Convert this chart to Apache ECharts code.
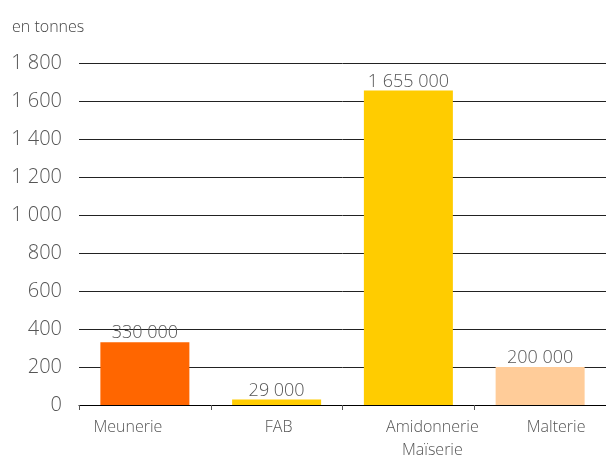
<!DOCTYPE html>
<html>
<head>
<meta charset="utf-8">
<script src="https://cdn.jsdelivr.net/npm/echarts@6/dist/echarts.min.js"></script>
<style>
  html, body { margin: 0; padding: 0; background: #fff; }
  #chart { width: 606px; height: 460px; }
</style>
</head>
<body>
<div id="chart"></div>
<script>
// milliers de tonnes
const categories = ["Meunerie", "FAB", "Amidonnerie\nMaïserie", "Malterie"];
const values = [330, 29, 1655, 200];
const barColors = ["#FF6600", "#FFCC00", "#FFCC00", "#FFCC99"];
const labelKeys = ["a", "b", "c", "d"];

const font = "Open Sans";

function spaced(n) {
  return String(n).replace(/\B(?=(\d{3})+(?!\d))/g, " ");
}

const chart = echarts.init(document.getElementById("chart"));
chart.setOption({
  animation: false,
  title: {
    text: "en tonnes",
    left: 7,
    top: 14,
    textStyle: { fontFamily: font, fontWeight: 300, fontSize: 16, color: "#444" }
  },
  grid: { left: 79, right: 0, top: 63, bottom: 55, outerBoundsMode: "none", containLabel: false },
  xAxis: {
    type: "category",
    data: categories,
    axisLine: { lineStyle: { color: "#000", width: 1 } },
    axisTick: { show: true, length: 5, lineStyle: { color: "#555" } },
    axisLabel: {
      margin: 11,
      interval: 0,
      fontFamily: font,
      fontWeight: 300,
      fontSize: 16,
      color: "#555",
      lineHeight: 23,
      formatter: function (v, i) {
        return v.split("\n").map(function (s) { return "{" + labelKeys[i] + "|" + s + "}"; }).join("\n");
      },
      rich: {
        a: { fontFamily: font, fontWeight: 300, fontSize: 16, color: "#555", lineHeight: 23, padding: [0, 34, 0, 0] },
        b: { fontFamily: font, fontWeight: 300, fontSize: 16, color: "#555", lineHeight: 23, padding: [0, 0, 0, 4] },
        c: { fontFamily: font, fontWeight: 300, fontSize: 16, color: "#555", lineHeight: 23, padding: [0, 0, 0, 48] },
        d: { fontFamily: font, fontWeight: 300, fontSize: 16, color: "#555", lineHeight: 23, padding: [0, 0, 0, 32] }
      }
    }
  },
  yAxis: {
    type: "value",
    min: 0,
    max: 1800,
    interval: 200,
    axisLine: { show: false },
    axisTick: { show: false },
    axisLabel: {
      margin: 17,
      fontFamily: font,
      fontWeight: 300,
      fontSize: 20,
      color: "#555",
      formatter: function (v) { return spaced(v); }
    },
    splitLine: { lineStyle: { color: "#222", width: 1 } }
  },
  series: [{
    type: "bar",
    barWidth: 89,
    data: values.map(function (v, i) {
      return { value: v, itemStyle: { color: barColors[i] } };
    }),
    label: {
      show: true,
      position: "top",
      distance: 0,
      fontFamily: font,
      fontWeight: 300,
      fontSize: 18,
      color: "#555",
      formatter: function (p) { return spaced(p.value * 1000); }
    }
  }]
});
</script>
</body>
</html>
